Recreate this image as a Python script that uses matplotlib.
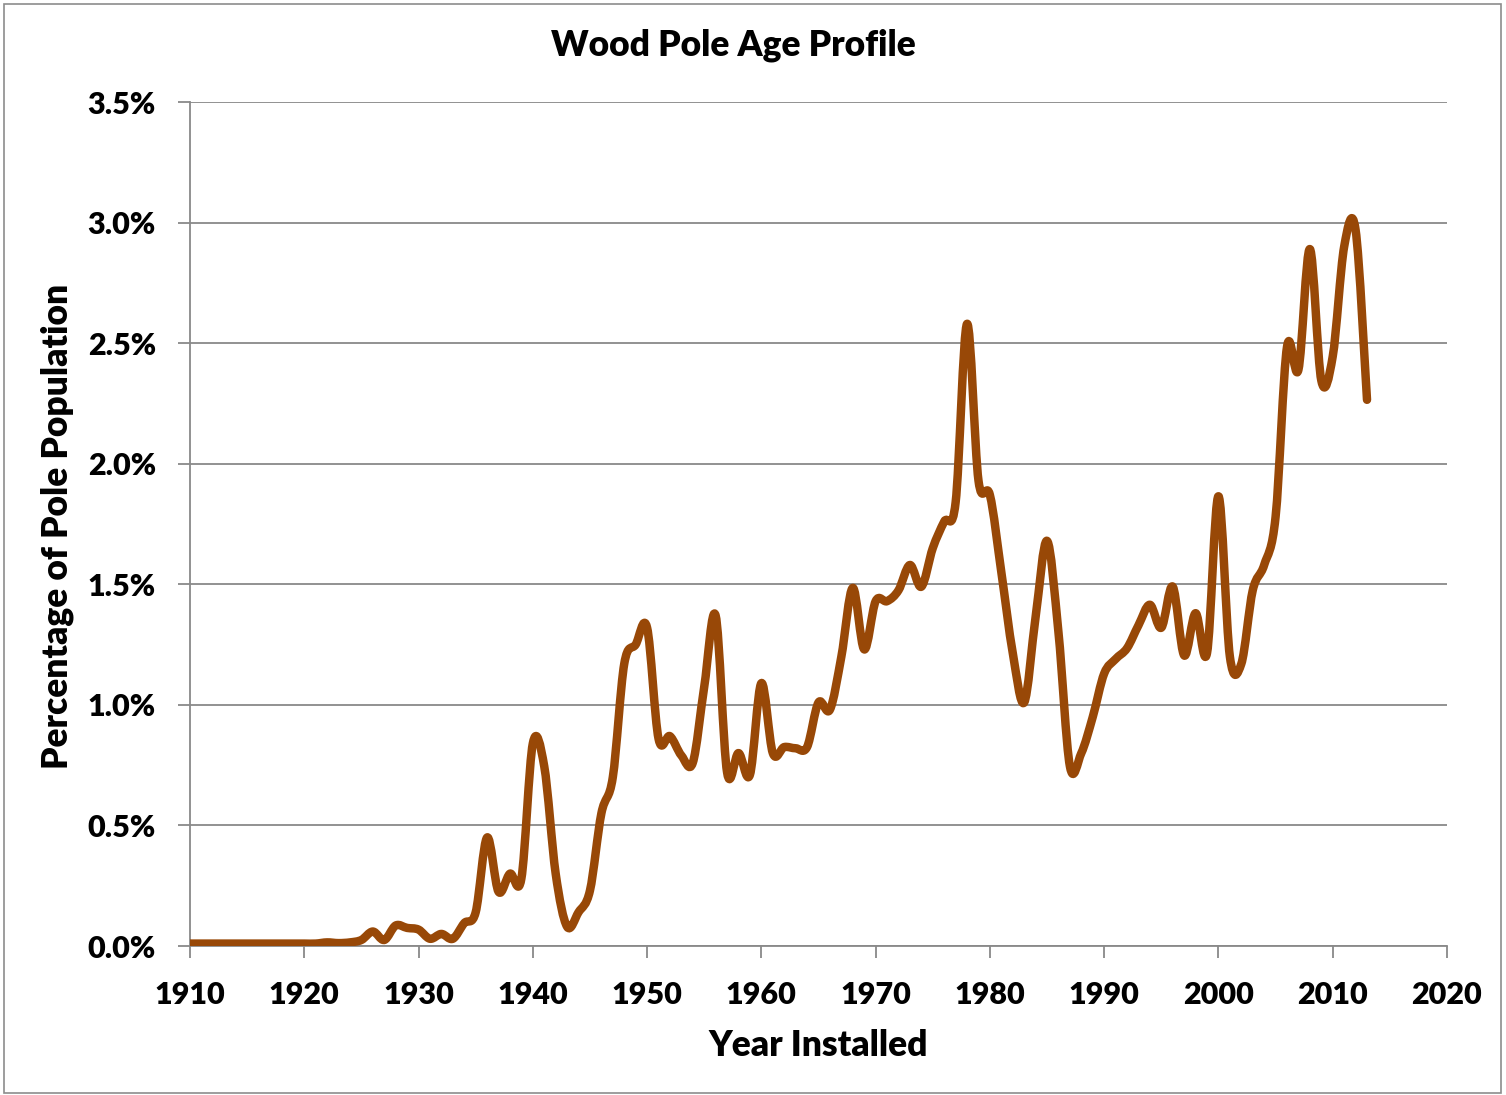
import matplotlib.pyplot as plt
from matplotlib.path import Path
from matplotlib.patches import PathPatch, Rectangle
from matplotlib.ticker import FuncFormatter, MultipleLocator

plt.rcParams['font.family'] = ['Lato', 'DejaVu Sans']
plt.rcParams['font.weight'] = 'heavy'

years = list(range(1910, 2014))
pct = [
    0.01, 0.01, 0.01, 0.01, 0.01, 0.01, 0.01, 0.01, 0.01, 0.01,      # 1910-1919
    0.01, 0.01, 0.015, 0.012, 0.015, 0.025, 0.06, 0.025, 0.085, 0.075,  # 1920-1929
    0.068, 0.03, 0.05, 0.03, 0.095, 0.14, 0.45, 0.225, 0.30, 0.28,    # 1930-1939
    0.84, 0.745, 0.30, 0.08, 0.14, 0.23, 0.55, 0.70, 1.17, 1.25,      # 1940-1949
    1.32, 0.86, 0.87, 0.79, 0.76, 1.075, 1.37, 0.72, 0.80, 0.71,      # 1950-1959
    1.09, 0.80, 0.825, 0.82, 0.825, 1.01, 0.98, 1.20, 1.485, 1.23,    # 1960-1969
    1.43, 1.43, 1.475, 1.58, 1.49, 1.65, 1.76, 1.84, 2.58, 1.93,      # 1970-1979
    1.87, 1.55, 1.215, 1.01, 1.365, 1.68, 1.30, 0.745, 0.80, 0.95,    # 1980-1989
    1.13, 1.19, 1.235, 1.33, 1.415, 1.32, 1.49, 1.205, 1.38, 1.215,   # 1990-1999
    1.865, 1.20, 1.17, 1.475, 1.58, 1.78, 2.485, 2.39, 2.89, 2.345,   # 2000-2009
    2.445, 2.90, 2.97, 2.265,                                         # 2010-2013
]

line_color = '#984807'
grid_color = '#898989'


def smooth_path(xs, ys):
    # Excel-style smoothed line: cubic Bezier through every point
    pts = list(zip(xs, ys))
    n = len(pts)
    verts = [pts[0]]
    codes = [Path.MOVETO]
    for i in range(n - 1):
        p0 = pts[i - 1] if i > 0 else pts[i]
        p1 = pts[i]
        p2 = pts[i + 1]
        p3 = pts[i + 2] if i + 2 < n else pts[i + 1]
        c1 = (p1[0] + (p2[0] - p0[0]) / 6, p1[1] + (p2[1] - p0[1]) / 6)
        c2 = (p2[0] - (p3[0] - p1[0]) / 6, p2[1] - (p3[1] - p1[1]) / 6)
        verts += [c1, c2, p2]
        codes += [Path.CURVE4] * 3
    return Path(verts, codes)


fig = plt.figure(figsize=(15.06, 10.95), dpi=100)
ax = fig.add_axes([190 / 1506, 1 - 946 / 1095, (1447 - 190) / 1506, (946 - 102) / 1095])

ax.add_patch(PathPatch(smooth_path(years, pct), fill=False, edgecolor=line_color,
                       lw=6.1, capstyle='round', joinstyle='round', zorder=3))

ax.set_xlim(1910, 2020)
ax.set_ylim(0, 3.5)
ax.xaxis.set_major_locator(MultipleLocator(10))
ax.yaxis.set_major_locator(MultipleLocator(0.5))
ax.yaxis.set_major_formatter(FuncFormatter(lambda v, p: f"{v:.1f}%"))

ax.grid(axis='y', color=grid_color, lw=1.3)
ax.set_axisbelow(True)
for s in ['top', 'right']:
    ax.spines[s].set_visible(False)
for s in ['left', 'bottom']:
    ax.spines[s].set_color(grid_color)
    ax.spines[s].set_linewidth(1.3)
ax.tick_params(axis='both', colors=grid_color, length=8.5, width=1.3, labelcolor='black',
               labelsize=22)
ax.tick_params(axis='x', pad=17)
ax.tick_params(axis='y', pad=16)
for lab in ax.get_xticklabels() + ax.get_yticklabels():
    lab.set_fontweight('heavy')

fig.text(733 / 1506, 1 - 45 / 1095, "Wood Pole Age Profile", ha='center', va='center',
         fontsize=25.5, fontweight='heavy')
fig.text(818 / 1506, 1 - 1046 / 1095, "Year Installed", ha='center', va='center',
         fontsize=25.5, fontweight='heavy')
fig.text(57 / 1506, 1 - 526 / 1095, "Percentage of Pole Population", ha='center', va='center',
         rotation=90, fontsize=25.5, fontweight='heavy')

fig.patches.append(Rectangle((4 / 1506, 2 / 1095), 1497 / 1506, 1089 / 1095,
                             transform=fig.transFigure, fill=False,
                             edgecolor='#8c8c8c', lw=1.2))

fig.savefig("out.png", dpi=100)
